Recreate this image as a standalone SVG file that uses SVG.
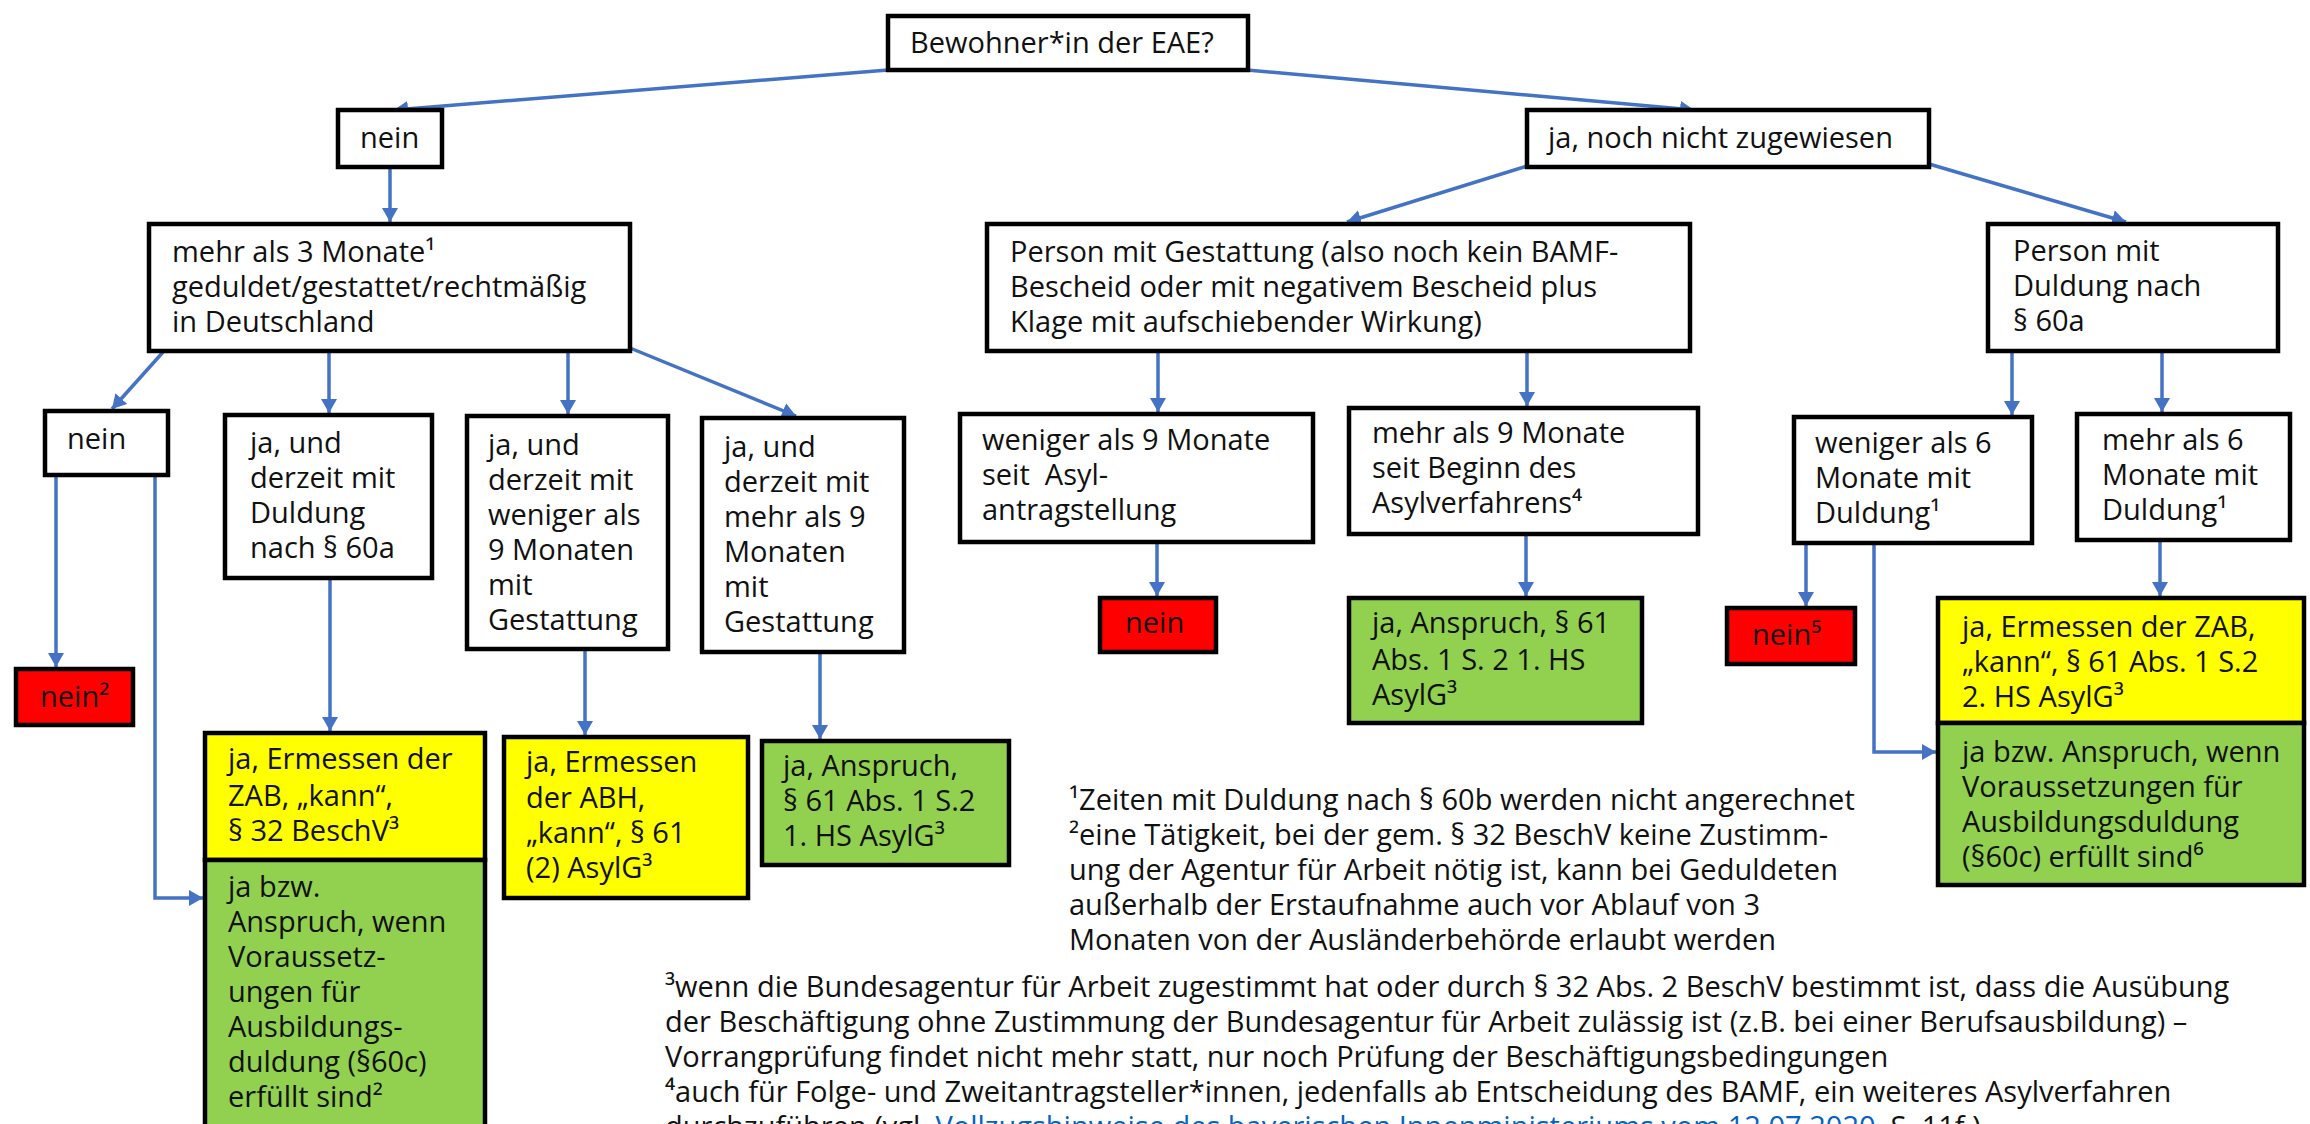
<svg xmlns="http://www.w3.org/2000/svg" width="2310" height="1124" viewBox="0 0 2310 1124">
<style>
.b{fill:#fff;stroke:#000;stroke-width:4.5}
.r{fill:#ff0000;stroke:#000;stroke-width:4.5}
.y{fill:#ffff00;stroke:#000;stroke-width:4.5}
.g{fill:#92d050;stroke:#000;stroke-width:4.5}
text{font-family:"Open Sans","Noto Sans","DejaVu Sans",sans-serif;font-size:29px;fill:#111}
.c line,.c polyline{fill:none;stroke:#4472c4;stroke-width:3.5;marker-end:url(#a)}
.lk{fill:#0563c1}
</style>
<defs>
<marker id="a" markerUnits="userSpaceOnUse" viewBox="0 0 14 16" refX="14" refY="8" markerWidth="14" markerHeight="16" orient="auto"><path d="M0,0 L14,8 L0,16 z" fill="#4472c4"/></marker>
</defs>
<rect width="2310" height="1124" fill="#fff"/>

<g class="c" id="connectors">
<line x1="888" y1="70" x2="394" y2="110"/>
<line x1="1247" y1="70" x2="1694" y2="110"/>
<line x1="390" y1="167" x2="390" y2="222"/>
<line x1="1527" y1="166" x2="1347" y2="222"/>
<line x1="1929" y1="164" x2="2126" y2="222"/>
<line x1="164" y1="351" x2="112" y2="409"/>
<line x1="329" y1="351" x2="329" y2="413"/>
<line x1="568" y1="351" x2="568" y2="414"/>
<line x1="630" y1="348" x2="796" y2="416"/>
<line x1="1158" y1="351" x2="1158" y2="412"/>
<line x1="1527" y1="351" x2="1527" y2="406"/>
<line x1="2012" y1="351" x2="2012" y2="415"/>
<line x1="2162" y1="351" x2="2162" y2="412"/>
<line x1="56" y1="475" x2="56" y2="667"/>
<polyline points="155,475 155,898 203,898"/>
<line x1="330" y1="578" x2="330" y2="731"/>
<line x1="585" y1="649" x2="585" y2="735"/>
<line x1="820" y1="652" x2="820" y2="739"/>
<line x1="1157" y1="542" x2="1157" y2="596"/>
<line x1="1526" y1="534" x2="1526" y2="596"/>
<line x1="1806" y1="543" x2="1806" y2="606"/>
<polyline points="1874,543 1874,752 1936,752"/>
<line x1="2160" y1="540" x2="2160" y2="596"/>
</g>

<g id="n-top"><rect class="b" x="888" y="16" width="360" height="54"/><text x="910" y="53">Bewohner*in der EAE?</text></g>
<g id="n-neinA"><rect class="b" x="338" y="110" width="104" height="57"/><text x="360" y="148">nein</text></g>
<g id="n-janoch"><rect class="b" x="1527" y="110" width="402" height="57"/><text x="1548" y="148">ja, noch nicht zugewiesen</text></g>
<g id="n-mehr3"><rect class="b" x="149" y="224" width="481" height="127"/><text x="172" y="262">mehr als 3 Monate¹</text><text x="172" y="297">geduldet/gestattet/rechtmäßig</text><text x="172" y="332">in Deutschland</text></g>
<g id="n-gest"><rect class="b" x="987" y="224" width="703" height="127"/><text x="1010" y="262">Person mit Gestattung (also noch kein BAMF-</text><text x="1010" y="297">Bescheid oder mit negativem Bescheid plus</text><text x="1010" y="332">Klage mit aufschiebender Wirkung)</text></g>
<g id="n-dul60a"><rect class="b" x="1988" y="224" width="290" height="127"/><text x="2013" y="261">Person mit</text><text x="2013" y="296">Duldung nach</text><text x="2013" y="331">§ 60a</text></g>

<g id="n-neinB"><rect class="b" x="45" y="411" width="123" height="64"/><text x="67" y="449">nein</text></g>
<g id="n-jaDuldung"><rect class="b" x="225" y="415" width="207" height="163"/><text x="250" y="453">ja, und</text><text x="250" y="488">derzeit mit</text><text x="250" y="523">Duldung</text><text x="250" y="558">nach § 60a</text></g>
<g id="n-jaWeniger9"><rect class="b" x="467" y="416" width="201" height="233"/><text x="488" y="455">ja, und</text><text x="488" y="490">derzeit mit</text><text x="488" y="525">weniger als</text><text x="488" y="560">9 Monaten</text><text x="488" y="595">mit</text><text x="488" y="630">Gestattung</text></g>
<g id="n-jaMehr9"><rect class="b" x="702" y="418" width="202" height="234"/><text x="724" y="457">ja, und</text><text x="724" y="492">derzeit mit</text><text x="724" y="527">mehr als 9</text><text x="724" y="562">Monaten</text><text x="724" y="597">mit</text><text x="724" y="632">Gestattung</text></g>
<g id="n-wen9"><rect class="b" x="960" y="414" width="353" height="128"/><text x="982" y="450">weniger als 9 Monate</text><text x="982" y="485" xml:space="preserve">seit  Asyl-</text><text x="982" y="520">antragstellung</text></g>
<g id="n-mehr9"><rect class="b" x="1349" y="408" width="349" height="126"/><text x="1372" y="443">mehr als 9 Monate</text><text x="1372" y="478">seit Beginn des</text><text x="1372" y="513">Asylverfahrens⁴</text></g>
<g id="n-wen6"><rect class="b" x="1794" y="417" width="238" height="126"/><text x="1815" y="453">weniger als 6</text><text x="1815" y="488">Monate mit</text><text x="1815" y="523">Duldung¹</text></g>
<g id="n-mehr6"><rect class="b" x="2077" y="414" width="213" height="126"/><text x="2102" y="450">mehr als 6</text><text x="2102" y="485">Monate mit</text><text x="2102" y="520">Duldung¹</text></g>

<g id="n-nein2"><rect class="r" x="16" y="669" width="117" height="56"/><text x="40" y="707">nein²</text></g>
<g id="n-yellow1"><rect class="y" x="205" y="733" width="280" height="127"/><text x="228" y="769">ja, Ermessen der</text><text x="228" y="806">ZAB, „kann“,</text><text x="228" y="841">§ 32 BeschV³</text></g>
<g id="n-green1"><rect class="g" x="205" y="860" width="280" height="272"/><text x="228" y="897">ja bzw.</text><text x="228" y="932">Anspruch, wenn</text><text x="228" y="967">Voraussetz-</text><text x="228" y="1002">ungen für</text><text x="228" y="1037">Ausbildungs-</text><text x="228" y="1072">duldung (§60c)</text><text x="228" y="1107">erfüllt sind²</text></g>
<g id="n-yellow2"><rect class="y" x="504" y="737" width="244" height="161"/><text x="526" y="772">ja, Ermessen</text><text x="526" y="808">der ABH,</text><text x="526" y="843">„kann“, § 61</text><text x="526" y="878">(2) AsylG³</text></g>
<g id="n-green3"><rect class="g" x="762" y="741" width="247" height="124"/><text x="783" y="776">ja, Anspruch,</text><text x="783" y="811">§ 61 Abs. 1 S.2</text><text x="783" y="846">1. HS AsylG³</text></g>
<g id="n-neinMid"><rect class="r" x="1100" y="598" width="116" height="54"/><text x="1125" y="633">nein</text></g>
<g id="n-greenMid"><rect class="g" x="1349" y="598" width="293" height="125"/><text x="1372" y="633">ja, Anspruch, § 61</text><text x="1372" y="670">Abs. 1 S. 2 1. HS</text><text x="1372" y="705">AsylG³</text></g>
<g id="n-nein5"><rect class="r" x="1727" y="608" width="128" height="56"/><text x="1752" y="645">nein⁵</text></g>
<g id="n-yellowR"><rect class="y" x="1938" y="598" width="366" height="125"/><text x="1962" y="637">ja, Ermessen der ZAB,</text><text x="1962" y="672">„kann“, § 61 Abs. 1 S.2</text><text x="1962" y="707">2. HS AsylG³</text></g>
<g id="n-greenR"><rect class="g" x="1938" y="723" width="366" height="162"/><text x="1962" y="762">ja bzw. Anspruch, wenn</text><text x="1962" y="797">Voraussetzungen für</text><text x="1962" y="832">Ausbildungsduldung</text><text x="1962" y="867">(§60c) erfüllt sind⁶</text></g>

<g id="footnotes">
<text x="1069" y="810">¹Zeiten mit Duldung nach § 60b werden nicht angerechnet</text>
<text x="1069" y="845">²eine Tätigkeit, bei der gem. § 32 BeschV keine Zustimm-</text>
<text x="1069" y="880">ung der Agentur für Arbeit nötig ist, kann bei Geduldeten</text>
<text x="1069" y="915">außerhalb der Erstaufnahme auch vor Ablauf von 3</text>
<text x="1069" y="950">Monaten von der Ausländerbehörde erlaubt werden</text>
<text x="665" y="997">³wenn die Bundesagentur für Arbeit zugestimmt hat oder durch § 32 Abs. 2 BeschV bestimmt ist, dass die Ausübung</text>
<text x="665" y="1032">der Beschäftigung ohne Zustimmung der Bundesagentur für Arbeit zulässig ist (z.B. bei einer Berufsausbildung) –</text>
<text x="665" y="1067">Vorrangprüfung findet nicht mehr statt, nur noch Prüfung der Beschäftigungsbedingungen</text>
<text x="665" y="1102">⁴auch für Folge- und Zweitantragsteller*innen, jedenfalls ab Entscheidung des BAMF, ein weiteres Asylverfahren</text>
<text x="665" y="1137">durchzuführen (vgl. <tspan class="lk" text-decoration="underline">Vollzugshinweise des bayerischen Innenministeriums vom 12.07.2020</tspan>, S. 11f.)</text>
</g>
</svg>
